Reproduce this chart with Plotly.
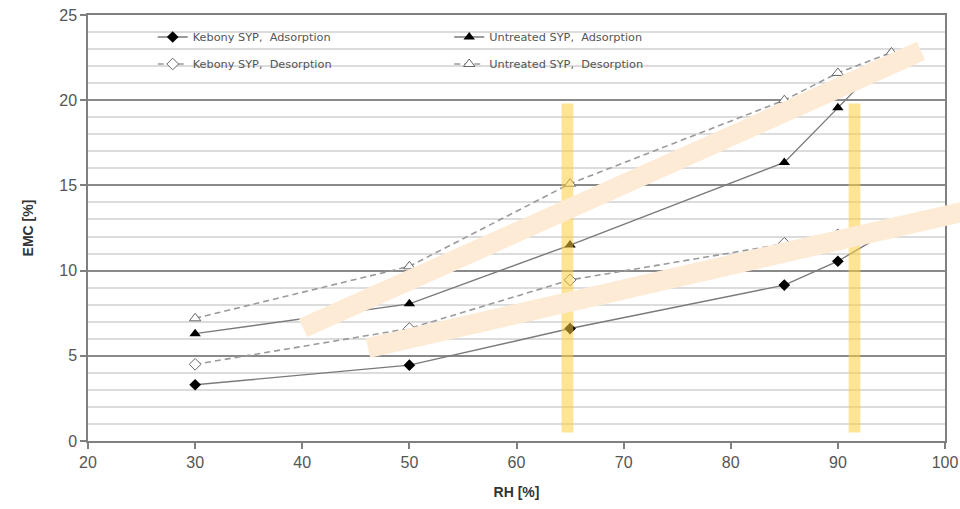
import plotly.graph_objects as go

# ---- data ----
rh = [30, 50, 65, 85, 90, 95]
kebony_ads = [3.3, 4.45, 6.6, 9.15, 10.55, 12.4]
kebony_des = [4.5, 6.6, 9.45, 11.6, 12.1, 12.5]
untreated_ads = [6.3, 8.05, 11.5, 16.35, 19.55, 22.8]
untreated_des = [7.2, 10.25, 15.1, 20.0, 21.6, 22.8]

names = ["Kebony SYP,  Adsorption", "Untreated SYP,  Adsorption",
         "Kebony SYP,  Desorption", "Untreated SYP,  Desorption"]

x_ticks = [20, 30, 40, 50, 60, 70, 80, 90, 100]
y_ticks = [0, 5, 10, 15, 20, 25]

# highlight bars (RH positions) and bands (annotation overlays)
bar_centers = [64.75, 91.55]

fig = go.Figure()

fig.add_trace(go.Scatter(x=rh, y=kebony_ads, name=names[0], mode="lines+markers",
                         line=dict(color="#7a7a7a", width=1.4),
                         marker=dict(symbol="diamond", size=9, color="black"),
                         legend="legend", showlegend=True))
fig.add_trace(go.Scatter(x=rh, y=untreated_ads, name=names[1], mode="lines+markers",
                         line=dict(color="#7a7a7a", width=1.4),
                         marker=dict(symbol="triangle-up", size=10, color="black"),
                         legend="legend2", showlegend=True))
fig.add_trace(go.Scatter(x=rh, y=kebony_des, name=names[2], mode="lines+markers",
                         line=dict(color="#9a9a9a", width=1.6, dash="6px,4px"),
                         marker=dict(symbol="diamond", size=9, color="white",
                                     line=dict(color="#666", width=1)),
                         legend="legend3", showlegend=True))
fig.add_trace(go.Scatter(x=rh, y=untreated_des, name=names[3], mode="lines+markers",
                         line=dict(color="#9a9a9a", width=1.6, dash="6px,4px"),
                         marker=dict(symbol="triangle-up", size=10, color="white",
                                     line=dict(color="#666", width=1)),
                         legend="legend4", showlegend=True))

shapes = []
# white legend box covering gridlines
shapes.append(dict(type="rect", xref="paper", yref="paper", x0=0.018, x1=0.705,
                   y0=0.86, y1=0.995, fillcolor="white", line=dict(width=0),
                   layer="between"))
# yellow vertical bars
for c in bar_centers:
    shapes.append(dict(type="rect", xref="x", yref="y", x0=c - 0.55, x1=c + 0.55,
                       y0=0.5, y1=19.8, fillcolor="rgba(253,205,60,0.55)",
                       line=dict(width=0), layer="above"))
# peach diagonal bands
shapes.append(dict(type="line", xref="paper", yref="paper", x0=0.2509, y0=0.2653,
                   x1=0.972, y1=0.9155, line=dict(color="#FDEBD6", width=20),
                   layer="above"))
shapes.append(dict(type="line", xref="paper", yref="paper", x0=0.3267, y0=0.2183,
                   x1=1.04, y1=0.547, line=dict(color="#FDEBD6", width=20),
                   layer="above"))

legend_common = dict(bgcolor="rgba(0,0,0,0)", font=dict(family="DejaVu Sans", size=11.3, color="#555"),
                     xanchor="left", yanchor="middle", itemwidth=30)

fig.update_layout(
    width=960, height=509,
    margin=dict(l=88, r=15, t=15, b=68, autoexpand=False),
    showlegend=True,
    paper_bgcolor="white", plot_bgcolor="white",
    font=dict(family="Liberation Sans", color="#555"),
    shapes=shapes,
    legend=dict(x=0.0755, y=(441 - 37) / 426, **legend_common),
    legend2=dict(x=0.4215, y=(441 - 37) / 426, **legend_common),
    legend3=dict(x=0.0755, y=(441 - 64) / 426, **legend_common),
    legend4=dict(x=0.4215, y=(441 - 64) / 426, **legend_common),
    xaxis=dict(range=[20, 100], tickvals=x_ticks, ticks="outside", ticklen=6,
               tickcolor="#808080", tickwidth=1.5, showgrid=False, zeroline=False,
               showline=True, linecolor="#808080", linewidth=1.5, mirror=True,
               tickfont=dict(size=16, color="#555"), automargin=False,
               ticklabeloverflow="allow",
               title=dict(text="<b>RH [%]</b>", font=dict(size=14, color="#333"), standoff=17)),
    yaxis=dict(range=[0, 25], tickvals=y_ticks, ticks="outside", ticklen=6,
               tickcolor="#808080", tickwidth=1.5, showgrid=True, gridcolor="#8a8a8a",
               gridwidth=1.5, zeroline=False, showline=True, linecolor="#808080",
               linewidth=1.5, mirror=True, automargin=False,
               ticklabeloverflow="allow",
               minor=dict(dtick=1, showgrid=True, gridcolor="#dcdcdc", gridwidth=1.5),
               tickfont=dict(size=16, color="#555"),
               title=dict(text="<b>EMC [%]</b>", font=dict(size=14, color="#333"), standoff=22)),
)

# remove the page's default body margin so the figure sits at the window origin
fig.write_html("out.html", config={"displayModeBar": False},
               post_script="document.body.style.margin='0';document.body.style.overflow='hidden';")
